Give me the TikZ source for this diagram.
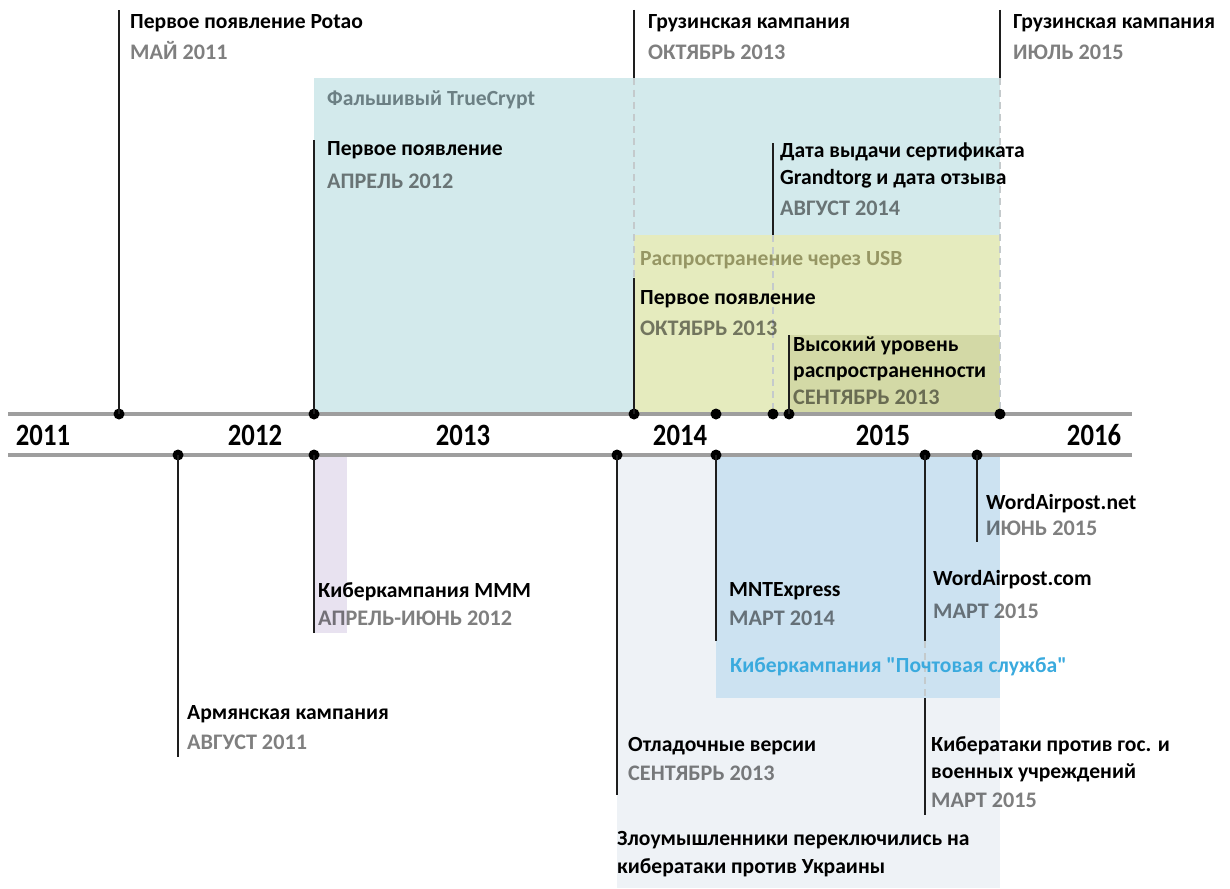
\documentclass[tikz,border=0pt]{standalone}
\usepackage{fontspec}
\setmainfont{Carlito}
\newfontfamily\yearfont{Carlito}[FakeStretch=0.86]
\newfontfamily\quotefont{Carlito}
\usepackage{xcolor}
\usetikzlibrary{positioning}
\definecolor{ink}{RGB}{30,30,30}
\definecolor{axisgray}{RGB}{158,158,158}
\definecolor{guidegray}{RGB}{196,202,204}
\definecolor{fakeband}{RGB}{211,234,236}
\definecolor{usbband}{RGB}{229,235,190}
\definecolor{peakband}{RGB}{211,217,166}
\definecolor{mmmband}{RGB}{232,226,240}
\definecolor{ukrband}{RGB}{238,242,246}
\definecolor{postband}{RGB}{204,226,241}
\definecolor{postblue}{RGB}{58,170,222}
\definecolor{fakelabel}{RGB}{108,128,132}
\definecolor{usblabel}{RGB}{150,150,100}
\tikzset{
  axisline/.style={line width=4pt,axisgray},
  stem/.style={line width=2pt,ink},
  guide/.style={line width=1.2pt,guidegray,dash pattern=on 7pt off 5pt},
  dot/.style={circle,fill=black,inner sep=0pt,minimum size=11pt},
  title/.style={anchor=base west,inner sep=0pt,text=black,
    font=\fontsize{21.6}{25}\selectfont\bfseries},
  when/.style={title,text=black,text opacity=0.5,
    font=\fontsize{22.2}{25}\selectfont\bfseries},
  year/.style={anchor=base,inner sep=0pt,text=black,
    font=\yearfont\fontsize{31}{34}\selectfont\bfseries}
}
\begin{document}
\begin{tikzpicture}[x=1pt,y=-1pt]
  \useasboundingbox (0,0) rectangle (1230,888);
  % campaign bands
  \fill[fakeband] (314,78) rectangle (1000,414);
  \fill[usbband] (634,235) rectangle (1000,414);
  \fill[peakband] (789,335) rectangle (1000,414);
  \fill[mmmband] (314,455) rectangle (347,633);
  \fill[ukrband] (617,455) rectangle (1000,888);
  \fill[postband] (716,455) rectangle (1000,698);

  % the two rails
  \coordinate (railA) at (8,414);  \coordinate (railB) at (1132,414);
  \coordinate (railC) at (8,455);  \coordinate (railD) at (1132,455);
  \draw[axisline] (railA) -- (railB);
  \draw[axisline] (railC) -- (railD);

  \node[year] (y2011) at (43,445) {2011};
  \node[year] (y2012) at (255,445) {2012};
  \node[year] (y2013) at (463,445) {2013};
  \node[year] (y2014) at (680,445) {2014};
  \node[year] (y2015) at (883,445) {2015};
  \node[year] (y2016) at (1094,445) {2016};

  % events above
  \node[dot] (potao) at (119,414) {};
  \node[dot] (tcfirst) at (314,414) {};
  \node[dot] (geo13) at (634,414) {};
  \node[dot] (mar14) at (716,414) {};
  \node[dot] (cert) at (773,414) {};
  \node[dot] (peak) at (789,414) {};
  \node[dot] (geo15) at (1000,414) {};

  % events below
  \node[dot] (armen) at (178,455) {};
  \node[dot] (mmm) at (314,455) {};
  \node[dot] (debug) at (617,455) {};
  \node[dot] (mnt) at (716,455) {};
  \node[dot] (wacom) at (925,455) {};
  \node[dot] (wanet) at (977,455) {};

  \coordinate (potaoTop) at (119,10);
  \coordinate (tcTop) at (314,140);
  \coordinate (geo13Top) at (634,10);
  \coordinate (geo13Cut) at (634,78);
  \coordinate (usbTop) at (634,278);
  \coordinate (certTop) at (773,143);
  \coordinate (certCut) at (773,235);
  \coordinate (peakTop) at (789,335);
  \coordinate (geo15Top) at (1000,10);
  \coordinate (geo15Cut) at (1000,78);
  \coordinate (armenEnd) at (178,757);
  \coordinate (mmmEnd) at (314,633);
  \coordinate (debugEnd) at (617,795);
  \coordinate (mntEnd) at (716,641);
  \coordinate (wacomEnd) at (925,641);
  \coordinate (govTop) at (925,698);
  \coordinate (govEnd) at (925,815);
  \coordinate (wanetEnd) at (977,542);

  \draw[guide] (geo13Cut) -- (usbTop);
  \draw[guide] (certCut) -- (cert);
  \draw[guide] (geo15Cut) -- (geo15);
  \draw[guide] (wacomEnd) -- (govTop);

  \draw[stem] (potao.center) -- (potaoTop);
  \draw[stem] (tcfirst.center) -- (tcTop);
  \draw[stem] (geo13Top) -- (geo13Cut);
  \draw[stem] (geo13.center) -- (usbTop);
  \draw[stem] (certTop) -- (certCut);
  \draw[stem] (peak.center) -- (peakTop);
  \draw[stem] (geo15Top) -- (geo15Cut);
  \draw[stem] (armen.center) -- (armenEnd);
  \draw[stem] (mmm.center) -- (mmmEnd);
  \draw[stem] (debug.center) -- (debugEnd);
  \draw[stem] (mnt.center) -- (mntEnd);
  \draw[stem] (wacom.center) -- (wacomEnd);
  \draw[stem] (govTop) -- (govEnd);
  \draw[stem] (wanet.center) -- (wanetEnd);

  % labels above
  \node[title] (potaoT) at (130,29) {Первое появление Potao};
  \node[when] (potaoD) at (130,60) {МАЙ 2011};
  \node[title,text=fakelabel] (fakeT) at (327,106) {Фальшивый TrueCrypt};
  \node[title] (tcT) at (327,155) {Первое появление};
  \node[when] (tcD) at (327,188) {АПРЕЛЬ 2012};
  \node[title] (geo13T) at (648,29) {Грузинская кампания};
  \node[when] (geo13D) at (648,60) {ОКТЯБРЬ 2013};
  \node[title] (geo15T) at (1013,29) {Грузинская кампания};
  \node[when] (geo15D) at (1013,60) {ИЮЛЬ 2015};
  \node[title] (certT) at (780,157) {Дата выдачи сертификата};
  \node[title] (certU) at (780,184) {Grandtorg и дата отзыва};
  \node[when] (certD) at (780,215) {АВГУСТ 2014};
  \node[title,text=usblabel] (usbT) at (640,265) {Распространение через USB};
  \node[title] (usbF) at (640,304) {Первое появление};
  \node[when] (usbD) at (640,335) {ОКТЯБРЬ 2013};
  \node[title] (peakT) at (793,351) {Высокий уровень};
  \node[title] (peakU) at (793,377) {распространенности};
  \node[when] (peakD) at (793,404) {СЕНТЯБРЬ 2013};

  % labels below
  \node[title] (wanetT) at (986,509) {WordAirpost.net};
  \node[when] (wanetD) at (986,535) {ИЮНЬ 2015};
  \node[title] (wacomT) at (933,585) {WordAirpost.com};
  \node[when] (wacomD) at (933,618) {МАРТ 2015};
  \node[title] (mmmT) at (318,597) {Киберкампания MMM};
  \node[when] (mmmD) at (318,625) {АПРЕЛЬ-ИЮНЬ 2012};
  \node[title] (mntT) at (729,596) {MNTExpress};
  \node[when] (mntD) at (729,625) {МАРТ 2014};
  \node[title,text=postblue] (postT) at (730,672)
    {Киберкампания {\quotefont"}Почтовая служба{\quotefont"}};
  \node[title] (armenT) at (187,719) {Армянская кампания};
  \node[when] (armenD) at (187,749) {АВГУСТ 2011};
  \node[title] (debugT) at (628,751) {Отладочные версии};
  \node[when] (debugD) at (628,780) {СЕНТЯБРЬ 2013};
  \node[title] (govT) at (931,751) {Кибератаки против гос. и};
  \node[title] (govU) at (931,778) {военных учреждений};
  \node[when] (govD) at (931,807) {МАРТ 2015};
  \node[title] (ukrT) at (617,845) {Злоумышленники переключились на};
  \node[title] (ukrU) at (617,873) {кибератаки против Украины};
\end{tikzpicture}
\end{document}
